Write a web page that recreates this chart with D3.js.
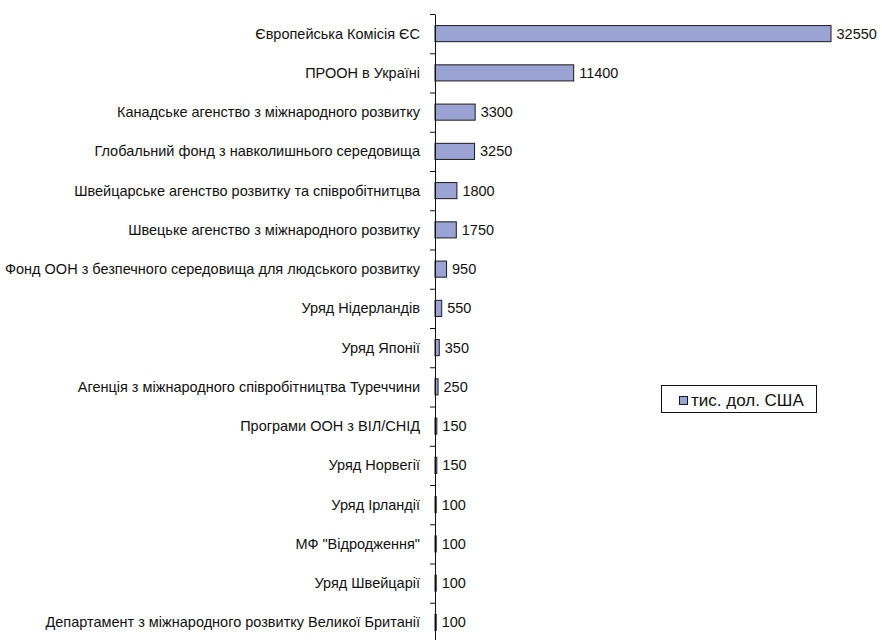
<!DOCTYPE html>
<html>
<head>
<meta charset="utf-8">
<script src="https://cdn.jsdelivr.net/npm/d3@7"></script>
<style>
  body { margin: 0; background: #fff; }
  svg { display: block; font-family: "Liberation Sans", Arial, sans-serif; }
</style>
</head>
<body>
<svg id="chart" width="882" height="640"></svg>
<script>
const categories = [
    "Європейська Комісія ЄС",
    "ПРООН в Україні",
    "Канадське агенство з міжнародного розвитку",
    "Глобальний фонд з навколишнього середовища",
    "Швейцарське агенство розвитку та співробітнитцва",
    "Швецьке агенство з міжнародного розвитку",
    "Фонд ООН з безпечного середовища для людського розвитку",
    "Уряд Нідерландів",
    "Уряд Японії",
    "Агенція з міжнародного співробітництва Туреччини",
    "Програми ООН з ВІЛ/СНІД",
    "Уряд Норвегії",
    "Уряд Ірландії",
    "МФ \"Відродження\"",
    "Уряд Швейцарії",
    "Департамент з міжнародного розвитку Великої Британії"
]
const values = [32550, 11400, 3300, 3250, 1800, 1750, 950, 550, 350, 250, 150, 150, 100, 100, 100, 100]
const seriesName = "тис. дол. США"

const margins = { top: 14, left: 435 }
const BAND = 39.25
const FONT = 14.5

const svg = d3.select("#chart")

const xRange = d3.scaleLinear()
    .domain([0, 32550])
    .range([margins.left, 831])

const yBand = d3.scaleBand()
    .domain(categories)
    .range([margins.top, margins.top + BAND * categories.length])
    .paddingInner(0.59)
    .paddingOuter(0.295)

// ticks sit on the band boundaries, not on the centers
const yEdges = d3.scaleLinear()
    .domain([0, categories.length])
    .range([margins.top, margins.top + BAND * categories.length])

svg.append("g")
    .selectAll("text")
    .data(categories)
    .join("text")
    .attr("x", 420)
    .attr("y", d => yBand(d) + yBand.bandwidth() / 2)
    .attr("dy", "0.35em")
    .attr("text-anchor", "end")
    .attr("font-size", FONT)
    .attr("fill", "#111")
    .text(d => d)

svg.append("g")
    .selectAll("rect")
    .data(values)
    .join("rect")
    .attr("x", xRange(0))
    .attr("y", (d, i) => yBand(categories[i]))
    .attr("width", d => xRange(d) - xRange(0))
    .attr("height", yBand.bandwidth())
    .attr("fill", "#9ba3d4")
    .attr("stroke", "#1a1a1a")
    .attr("stroke-width", 1)

svg.append("g")
    .attr("transform", "translate(" + margins.left + ",0)")
    .call(d3.axisLeft(yEdges)
        .tickValues(d3.range(0, categories.length + 1))
        .tickSize(5)
        .tickSizeOuter(0)
        .tickFormat(""))
    .call(g => g.selectAll("line, path").attr("stroke", "#111"))

svg.append("g")
    .selectAll("text")
    .data(values)
    .join("text")
    .attr("x", d => xRange(d) + 5.5)
    .attr("y", (d, i) => yBand(categories[i]) + yBand.bandwidth() / 2)
    .attr("dy", "0.35em")
    .attr("font-size", FONT)
    .attr("fill", "#111")
    .text(d => d)

// legend
svg.append("rect")
    .attr("x", 661.5)
    .attr("y", 385.5)
    .attr("width", 155)
    .attr("height", 27)
    .attr("fill", "#fff")
    .attr("stroke", "#111")
svg.append("rect")
    .attr("x", 679.5)
    .attr("y", 396.5)
    .attr("width", 8)
    .attr("height", 8)
    .attr("fill", "#9ba3d4")
    .attr("stroke", "#1a1a1a")
svg.append("text")
    .attr("x", 691)
    .attr("y", 400.5)
    .attr("dy", "0.35em")
    .attr("font-size", 17)
    .attr("fill", "#111")
    .text(seriesName)
</script>
</body>
</html>
